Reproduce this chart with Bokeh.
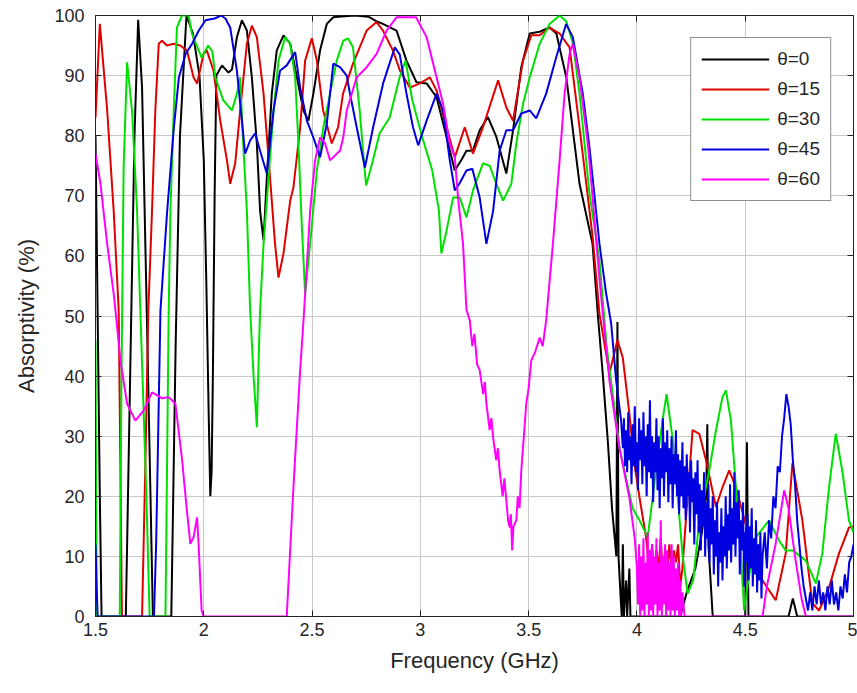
from bokeh.plotting import figure
from bokeh.models import (ColumnDataSource, FixedTicker, NumeralTickFormatter,
                          LinearAxis, Legend, LegendItem)
from bokeh.embed import file_html
from bokeh.resources import INLINE

FONT = "Liberation Sans"

series_labels = ["θ=0", "θ=15", "θ=30", "θ=45", "θ=60"]
series_colors = ["#000000", "#e00000", "#00e000", "#0000e0", "#ff00ff"]
x_ticks = [1.5, 2, 2.5, 3, 3.5, 4, 4.5, 5]
y_ticks = [0, 10, 20, 30, 40, 50, 60, 70, 80, 90, 100]

theta0 = [
    (1.5, 80), (1.51, 50), (1.52, 20), (1.528, 0), (1.64, 0), (1.66, 40), (1.68, 80),
    (1.697, 99.3), (1.715, 88), (1.74, 45), (1.765, 0), (1.85, 0), (1.87, 45), (1.89, 80),
    (1.92, 100), (1.95, 97), (1.98, 90), (2.0, 76), (2.012, 55), (2.022, 35), (2.03, 20),
    (2.036, 24), (2.042, 40), (2.05, 70), (2.058, 90), (2.084, 91.7), (2.114, 90.5),
    (2.13, 91), (2.153, 96.4), (2.176, 99.2), (2.199, 97.5), (2.222, 89.7), (2.245, 78.7),
    (2.26, 67.5), (2.276, 62.6), (2.291, 73), (2.314, 87), (2.337, 94.2), (2.368, 96.7),
    (2.399, 95.3), (2.43, 89.7), (2.46, 84.2), (2.483, 82.5), (2.506, 87), (2.537, 94.2),
    (2.568, 98.6), (2.598, 99.7), (2.62, 99.8), (2.7, 100), (2.76, 99.8), (2.8, 99),
    (2.827, 98.6), (2.89, 97.5), (2.936, 92.5), (2.982, 88.9), (3.029, 88.7), (3.075, 86.4),
    (3.121, 79.8), (3.159, 74.2), (3.19, 76), (3.213, 77.5), (3.242, 77.5), (3.274, 80.9),
    (3.312, 83.1), (3.351, 79.8), (3.397, 73.7), (3.428, 80.9), (3.466, 91.4), (3.505, 97),
    (3.551, 97.3), (3.597, 98), (3.628, 97), (3.674, 89.7), (3.735, 72), (3.795, 62),
    (3.82, 50), (3.843, 40), (3.866, 29), (3.885, 18), (3.905, 10), (3.91, 49), (3.915, 10),
    (3.925, 3), (3.93, 0), (3.935, 12), (3.94, 0), (3.95, 6), (3.955, 0), (3.965, 8),
    (3.97, 0), (4.2, 0), (4.23, 4), (4.27, 8), (4.3, 14), (4.32, 20), (4.325, 32),
    (4.33, 12), (4.35, 0), (4.5, 0), (4.508, 29), (4.515, 0), (4.7, 0), (4.72, 3),
    (4.74, 0), (5.0, 0),
]

theta15 = [
    (1.5, 83), (1.52, 98.6), (1.554, 84.2), (1.584, 67.5), (1.607, 51), (1.615, 25),
    (1.622, 0), (1.715, 0), (1.73, 25), (1.744, 51), (1.761, 67.5), (1.776, 84),
    (1.792, 95.3), (1.807, 95.8), (1.83, 95), (1.86, 95.3), (1.891, 95), (1.922, 94.2),
    (1.953, 89.7), (1.969, 88.7), (1.999, 93.6), (2.014, 94.2), (2.045, 90.8),
    (2.076, 82.5), (2.107, 75.9), (2.122, 72), (2.145, 75.4), (2.168, 84.2), (2.199, 95.3),
    (2.222, 98.3), (2.245, 96.4), (2.276, 87), (2.306, 73), (2.329, 62), (2.345, 56.4),
    (2.368, 60.4), (2.399, 69.2), (2.414, 71.4), (2.445, 81.4), (2.468, 92.5),
    (2.499, 96.2), (2.522, 92.5), (2.551, 84.2), (2.591, 78.7), (2.62, 81.4), (2.643, 87),
    (2.689, 92), (2.752, 97.5), (2.798, 98.9), (2.827, 97.5), (2.873, 94.2), (2.906, 90.8),
    (2.952, 88), (2.998, 88.7), (3.044, 89.7), (3.075, 87.5), (3.121, 81.4), (3.159, 76.4),
    (3.205, 81.4), (3.243, 77), (3.289, 81.4), (3.359, 89.2), (3.397, 84.7), (3.428, 82.5),
    (3.474, 92.5), (3.512, 96.7), (3.551, 96.7), (3.597, 98), (3.643, 97), (3.689, 94.7),
    (3.735, 81.4), (3.796, 63), (3.827, 50.4), (3.873, 40.4), (3.91, 46), (3.935, 43),
    (3.965, 33.8), (3.988, 25.5), (4.012, 19.8), (4.042, 13.2), (4.06, 7), (4.07, 12),
    (4.08, 6), (4.09, 11), (4.1, 8), (4.11, 13), (4.12, 7), (4.13, 11), (4.14, 8),
    (4.15, 12), (4.16, 7), (4.17, 11), (4.18, 9), (4.19, 12), (4.2, 5), (4.21, 8),
    (4.226, 16), (4.257, 31), (4.288, 30.4), (4.319, 26), (4.365, 18.2), (4.395, 21.5),
    (4.426, 24.3), (4.457, 21.5), (4.518, 13.2), (4.58, 6), (4.641, 2.7), (4.687, 10.5),
    (4.718, 25.5), (4.764, 16), (4.81, 2.2), (4.841, 1), (4.887, 4.8), (4.933, 10.5),
    (4.979, 14.8), (5.0, 15),
]

theta30 = [
    (1.5, 46), (1.503, 20), (1.506, 0), (1.612, 0), (1.62, 40), (1.63, 75), (1.646, 92.2),
    (1.669, 84), (1.692, 67.5), (1.707, 51), (1.735, 20), (1.75, 0), (1.823, 0),
    (1.838, 51), (1.846, 67.5), (1.861, 84), (1.876, 98), (1.899, 100), (1.93, 100),
    (1.945, 97), (1.99, 93), (2.02, 95), (2.04, 94), (2.053, 89.7), (2.09, 85.9),
    (2.13, 84.2), (2.153, 87), (2.168, 89.7), (2.182, 78.7), (2.199, 67.5), (2.214, 51),
    (2.23, 40), (2.245, 31.5), (2.255, 45), (2.26, 51), (2.276, 62), (2.299, 73),
    (2.322, 84), (2.345, 92.5), (2.376, 96.4), (2.399, 95.3), (2.422, 89.7), (2.437, 78.7),
    (2.453, 64.7), (2.468, 53.7), (2.491, 62), (2.522, 74.2), (2.552, 81.4), (2.583, 87),
    (2.614, 92.5), (2.644, 95.8), (2.666, 96.2), (2.689, 94.7), (2.72, 84.2),
    (2.743, 74.2), (2.75, 71.7), (2.781, 75.9), (2.812, 80.4), (2.858, 83), (2.904, 89.7),
    (2.932, 92.5), (2.963, 85.9), (3.009, 79.7), (3.055, 74.2), (3.086, 67.5),
    (3.097, 60.4), (3.121, 64.2), (3.151, 69.7), (3.182, 69.7), (3.213, 66.4),
    (3.243, 70.9), (3.289, 75.4), (3.32, 75), (3.351, 72), (3.382, 69.2), (3.42, 72),
    (3.443, 78.7), (3.474, 85.3), (3.505, 89.7), (3.551, 95.3), (3.597, 98.6),
    (3.643, 100), (3.674, 99), (3.705, 95.3), (3.735, 87), (3.781, 70.4), (3.827, 59.2),
    (3.86, 45), (3.92, 28), (3.98, 18), (4.012, 16), (4.05, 13.2), (4.088, 24.3),
    (4.118, 32.6), (4.137, 37), (4.164, 29.8), (4.187, 20.5), (4.21, 10.5), (4.234, 3.8),
    (4.26, 6), (4.288, 16), (4.334, 24.3), (4.365, 31), (4.395, 36.5), (4.411, 37.6),
    (4.434, 32.6), (4.457, 21.5), (4.48, 10.5), (4.495, 1), (4.51, 5), (4.549, 13.2),
    (4.61, 16), (4.657, 12.6), (4.687, 11), (4.72, 11), (4.78, 9.3), (4.826, 5.5),
    (4.856, 10.5), (4.887, 21.5), (4.918, 30.4), (4.948, 24.3), (4.979, 16), (5.0, 14),
]

theta45 = [
    (1.5, 12), (1.505, 5), (1.51, 0), (1.77, 0), (1.78, 12), (1.79, 31.5), (1.8, 51),
    (1.831, 67.5), (1.862, 81.4), (1.885, 89.7), (1.916, 93.6), (1.946, 95.3),
    (1.977, 97.5), (2.008, 99.2), (2.05, 99.5), (2.08, 100), (2.1, 99.5), (2.122, 98),
    (2.153, 90.8), (2.176, 82.5), (2.191, 77), (2.214, 79.2), (2.237, 80.4), (2.26, 77.5),
    (2.291, 73.7), (2.322, 84.2), (2.352, 90.8), (2.383, 91.7), (2.422, 93.9), (2.445, 88),
    (2.476, 82.5), (2.506, 79.7), (2.537, 76.4), (2.568, 82), (2.598, 92), (2.629, 91.4),
    (2.66, 90), (2.675, 87), (2.706, 81.4), (2.744, 74.7), (2.782, 81.4), (2.828, 88.7),
    (2.882, 94.7), (2.905, 93.5), (2.936, 87), (2.966, 81.4), (2.99, 78.4), (3.029, 82.5),
    (3.075, 87), (3.105, 84.2), (3.136, 75.9), (3.159, 70.9), (3.18, 72), (3.213, 74.2),
    (3.24, 74.5), (3.274, 69.7), (3.305, 62), (3.336, 67.5), (3.366, 77.5), (3.397, 80.9),
    (3.428, 80.9), (3.466, 83.7), (3.505, 84.2), (3.535, 82.9), (3.581, 87), (3.627, 93),
    (3.673, 98.6), (3.704, 96.4), (3.75, 87), (3.781, 78), (3.827, 62), (3.858, 53.7),
    (3.881, 48.8), (3.904, 39.3), (3.927, 32.6),
    (3.935, 28), (3.94, 33), (3.945, 25), (3.95, 31), (3.955, 24), (3.96, 34), (3.965, 26),
    (3.97, 30), (3.975, 22), (3.98, 32), (3.985, 25), (3.99, 35), (3.995, 24), (4.0, 29),
    (4.005, 21), (4.01, 33), (4.015, 26), (4.02, 31), (4.025, 22), (4.03, 34), (4.035, 25),
    (4.04, 30), (4.045, 20), (4.05, 32), (4.055, 24), (4.06, 36), (4.065, 23), (4.07, 30),
    (4.075, 19), (4.08, 29), (4.085, 24), (4.09, 33), (4.095, 21), (4.1, 30), (4.105, 18),
    (4.11, 28), (4.115, 23), (4.12, 33), (4.125, 20), (4.13, 29), (4.135, 24), (4.14, 31),
    (4.145, 19), (4.15, 28), (4.155, 22), (4.16, 30), (4.165, 18), (4.17, 27), (4.175, 22),
    (4.18, 31), (4.185, 20), (4.19, 27), (4.195, 17), (4.2, 26), (4.205, 20), (4.21, 29),
    (4.215, 18), (4.22, 25), (4.225, 16), (4.23, 27), (4.235, 20), (4.24, 24), (4.245, 14),
    (4.25, 26), (4.255, 19), (4.26, 23), (4.265, 12), (4.27, 24), (4.275, 17), (4.28, 26),
    (4.285, 14), (4.29, 22), (4.295, 11), (4.3, 21), (4.305, 15), (4.31, 24), (4.315, 10),
    (4.32, 19), (4.325, 13), (4.33, 22), (4.335, 9), (4.34, 18), (4.345, 12), (4.35, 20),
    (4.355, 7), (4.36, 16), (4.365, 10), (4.37, 19), (4.375, 5), (4.38, 14), (4.385, 9),
    (4.39, 18), (4.395, 6), (4.4, 15), (4.405, 10), (4.41, 20), (4.415, 8), (4.42, 17),
    (4.425, 11), (4.43, 22), (4.435, 9), (4.44, 18), (4.445, 12), (4.45, 24), (4.455, 10),
    (4.46, 19), (4.465, 13), (4.47, 21), (4.475, 7), (4.48, 16), (4.485, 11), (4.49, 19),
    (4.495, 5), (4.5, 14), (4.505, 9), (4.51, 17), (4.515, 6), (4.52, 15), (4.525, 8),
    (4.53, 18), (4.535, 5), (4.54, 13), (4.545, 7), (4.55, 16), (4.555, 4), (4.56, 12),
    (4.565, 6), (4.57, 14), (4.575, 3), (4.58, 10), (4.59, 14), (4.6, 8), (4.61, 16),
    (4.62, 13), (4.63, 20), (4.64, 18), (4.65, 25), (4.66, 24), (4.67, 30), (4.68, 33),
    (4.69, 37), (4.7, 35), (4.71, 32), (4.72, 26), (4.73, 22), (4.74, 16), (4.75, 12),
    (4.76, 8), (4.77, 5), (4.78, 3), (4.79, 1), (4.8, 4), (4.81, 1), (4.82, 5), (4.83, 2),
    (4.84, 6), (4.85, 2), (4.86, 4), (4.87, 1), (4.88, 5), (4.89, 2), (4.9, 6), (4.91, 2),
    (4.92, 4), (4.93, 1), (4.94, 5), (4.95, 3), (4.96, 7), (4.97, 4), (4.98, 9),
    (4.99, 10), (5.0, 12),
]

theta60 = [
    (1.5, 77), (1.523, 72), (1.554, 62), (1.584, 53.7), (1.592, 51), (1.615, 42.6),
    (1.646, 35.4), (1.684, 32.6), (1.723, 34.3), (1.761, 37.3), (1.785, 36.8),
    (1.807, 36.3), (1.838, 36.5), (1.869, 35.4), (1.9, 26), (1.922, 17.6), (1.938, 12.1),
    (1.953, 13.2), (1.969, 16.5), (1.976, 12), (1.99, 1), (2.0, 0), (2.383, 0),
    (2.414, 21.5), (2.445, 41), (2.46, 49), (2.468, 53.7), (2.491, 67.5), (2.514, 75.9),
    (2.537, 79.7), (2.56, 78.7), (2.583, 75.9), (2.614, 77), (2.629, 77.5), (2.644, 79.7),
    (2.66, 84.2), (2.706, 89.7), (2.752, 91.4), (2.798, 93.6), (2.844, 97.5), (2.89, 99.7),
    (2.98, 99.7), (3.029, 96.4), (3.075, 89.7), (3.105, 85.3), (3.136, 78.7),
    (3.159, 76.4), (3.174, 69.7), (3.197, 62), (3.213, 51), (3.228, 49.3), (3.24, 45),
    (3.25, 47), (3.262, 42), (3.274, 41), (3.29, 37), (3.298, 39), (3.305, 35.4),
    (3.32, 31), (3.328, 33), (3.336, 29.8), (3.35, 26), (3.358, 28), (3.366, 24.3),
    (3.38, 20), (3.388, 23), (3.397, 19.3), (3.405, 16), (3.413, 14.8), (3.418, 17),
    (3.424, 11), (3.43, 15), (3.443, 16), (3.45, 20), (3.458, 18), (3.466, 24.3),
    (3.478, 30), (3.489, 35.4), (3.5, 38), (3.512, 42.6), (3.53, 44), (3.551, 46.4),
    (3.565, 45), (3.581, 49.3), (3.612, 62), (3.643, 75.9), (3.666, 87), (3.689, 93.6),
    (3.704, 95.3), (3.735, 89.7), (3.773, 78.7), (3.79, 72), (3.83, 55), (3.873, 39.3),
    (3.919, 28.1), (3.965, 19.8), (3.99, 13),
    (4.0, 8), (4.005, 2), (4.01, 12), (4.015, 0), (4.02, 10), (4.025, 1), (4.03, 13),
    (4.035, 0), (4.04, 9), (4.045, 2), (4.05, 14), (4.055, 0), (4.06, 11), (4.065, 1),
    (4.07, 12), (4.075, 0), (4.08, 10), (4.085, 2), (4.09, 13), (4.095, 0), (4.1, 9),
    (4.105, 1), (4.11, 16), (4.115, 0), (4.12, 10), (4.125, 2), (4.13, 12), (4.135, 0),
    (4.14, 11), (4.145, 1), (4.15, 9), (4.155, 0), (4.16, 12), (4.165, 1), (4.17, 10),
    (4.175, 0), (4.18, 8), (4.185, 1), (4.19, 9), (4.195, 0), (4.2, 6), (4.205, 0),
    (4.21, 4), (4.22, 0), (4.58, 0), (4.6, 5), (4.64, 12), (4.68, 21), (4.7, 18),
    (4.73, 10), (4.76, 3), (4.78, 0), (5.0, 0),
]

all_series = [theta0, theta15, theta30, theta45, theta60]

p = figure(width=857, height=693, x_range=(1.5, 5), y_range=(0, 100),
           output_backend="svg", toolbar_location=None,
           min_border_left=95, min_border_right=4, min_border_top=15,
           min_border_bottom=77, x_axis_label="Frequency (GHz)",
           y_axis_label="Absorptivity (%)")

p.outline_line_color = "#222222"
p.outline_line_width = 1
p.background_fill_color = "white"
p.border_fill_color = "white"

for ax in p.xaxis:
    ax.ticker = FixedTicker(ticks=x_ticks)
    ax.formatter = NumeralTickFormatter(format="0.[0]")
for ax in p.yaxis:
    ax.ticker = FixedTicker(ticks=y_ticks)

for ax in list(p.xaxis) + list(p.yaxis):
    ax.major_tick_in = 6
    ax.major_tick_out = 0
    ax.minor_tick_line_color = None
    ax.major_label_text_font = FONT
    ax.major_label_text_font_size = "18px"
    ax.major_label_text_color = "#262626"
    ax.axis_label_text_font = FONT
    ax.axis_label_text_font_size = "22px"
    ax.axis_label_text_font_style = "normal"
    ax.axis_label_text_color = "#262626"
    ax.axis_line_color = "#222222"
    ax.major_tick_line_color = "#222222"

p.xaxis.major_label_standoff = 6
p.xaxis.axis_label_standoff = 9
p.yaxis.major_label_standoff = 11
p.yaxis.axis_label_standoff = 12

# inner ticks on the top and right sides (MATLAB box style)
top_ax = LinearAxis(ticker=FixedTicker(ticks=x_ticks), major_label_text_font_size="0px",
                    major_tick_in=6, major_tick_out=0, minor_tick_line_color=None,
                    major_label_standoff=0, axis_line_color=None,
                    major_tick_line_color="#222222")
right_ax = LinearAxis(ticker=FixedTicker(ticks=y_ticks), major_label_text_font_size="0px",
                      major_tick_in=6, major_tick_out=0, minor_tick_line_color=None,
                      major_label_standoff=0, axis_line_color=None,
                      major_tick_line_color="#222222")
p.add_layout(top_ax, "above")
p.add_layout(right_ax, "right")

p.grid.grid_line_color = "#c8c8c8"
p.grid.grid_line_width = 1

items = []
for name, color, pts in zip(series_labels, series_colors, all_series):
    src = ColumnDataSource(data=dict(x=[a for a, b in pts], y=[b for a, b in pts]))
    r = p.line("x", "y", source=src, line_color=color, line_width=2)
    items.append(LegendItem(label=name, renderers=[r]))

legend = Legend(items=items, location="top_right", margin=22,
                label_text_font=FONT, label_text_font_size="19px",
                label_text_color="#262626", glyph_width=68, glyph_height=20,
                label_height=20, spacing=8, padding=10, label_standoff=8,
                border_line_color="#222222", border_line_width=1,
                background_fill_color="white", background_fill_alpha=1)
p.add_layout(legend, "center")

open("out.html", "w").write(file_html(p, INLINE))
